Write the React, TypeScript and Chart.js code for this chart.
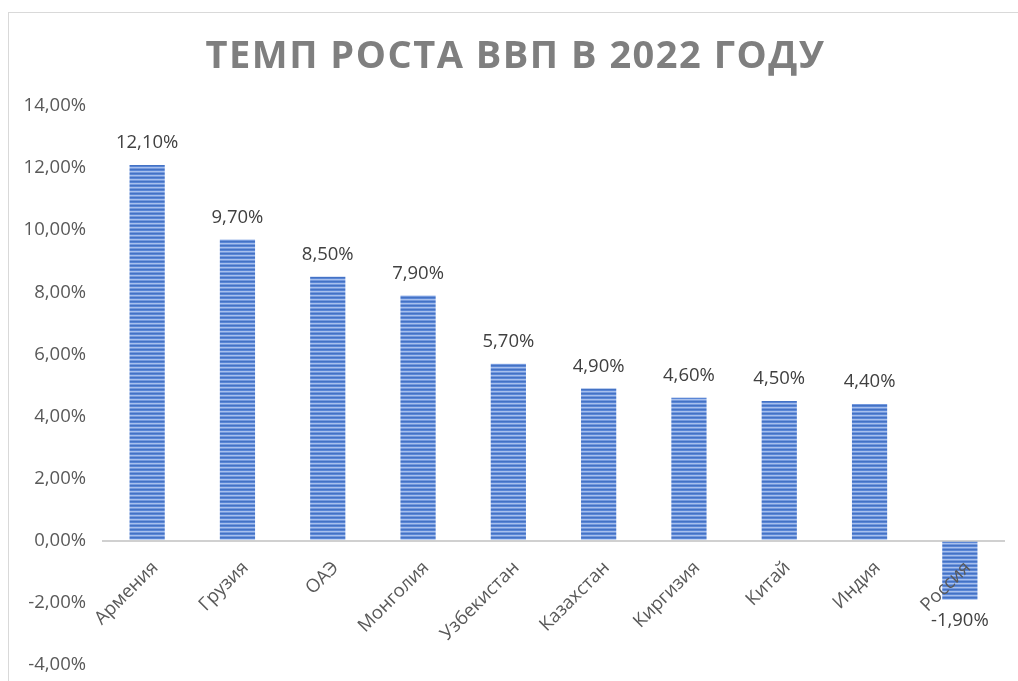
import React, { useEffect, useRef } from "react";
import { Chart, registerables } from "chart.js";

Chart.register(...registerables);

const TITLE = "ТЕМП РОСТА ВВП В 2022 ГОДУ";
const categories = ["Армения", "Грузия", "ОАЭ", "Монголия", "Узбекистан", "Казахстан", "Киргизия", "Китай", "Индия", "Россия"];
const growth = [12.1, 9.7, 8.5, 7.9, 5.7, 4.9, 4.6, 4.5, 4.4, -1.9];
const yMin = -4;
const yMax = 14;
const yStep = 2;

const fmt = (v: number) => v.toFixed(2).replace(".", ",") + "%";
const FONT = "'Open Sans', 'DejaVu Sans', sans-serif";

function makePattern(ctx: CanvasRenderingContext2D) {
  const c = document.createElement("canvas");
  c.width = 4;
  c.height = 4;
  const p = c.getContext("2d")!;
  const rows = ["#4472c4", "#5a86d6", "#a8c0ec", "#7499de"];
  rows.forEach((col, i) => {
    p.fillStyle = col;
    p.fillRect(0, i, 4, 1);
  });
  return ctx.createPattern(c, "repeat")!;
}

const overlayPlugin = {
  id: "overlay",
  afterDatasetsDraw(chart: any) {
    const { ctx, scales } = chart;
    const meta = chart.getDatasetMeta(0);
    const ds = chart.data.datasets[0].data as number[];
    ctx.save();
    // value labels
    ctx.font = `18.5px ${FONT}`;
    ctx.fillStyle = "#404040";
    ctx.textAlign = "center";
    ctx.textBaseline = "middle";
    meta.data.forEach((el: any, i: number) => {
      const v = ds[i];
      const y = v >= 0 ? el.y - 22 : el.y + 21;
      ctx.fillText(fmt(v), el.x, y);
    });
    // category labels at zero line
    const y0 = scales.y.getPixelForValue(0);
    ctx.fillStyle = "#595959";
    ctx.textAlign = "right";
    ctx.textBaseline = "middle";
    chart.data.labels.forEach((lab: string, i: number) => {
      const x = scales.x.getPixelForValue(i);
      ctx.save();
      ctx.translate(x + 8, y0 + 24);
      ctx.rotate(-Math.PI / 4);
      ctx.fillText(lab, 0, 0);
      ctx.restore();
    });
    // title
    ctx.font = `bold 38px ${FONT}`;
    ctx.fillStyle = "#7f7f7f";
    ctx.textAlign = "center";
    ctx.textBaseline = "middle";
    try {
      (ctx as any).letterSpacing = "1.5px";
    } catch (e) {}
    ctx.fillText(TITLE, chart.width / 2 + 2, 44);
    ctx.restore();
  },
};

export default function App() {
  const ref = useRef<HTMLCanvasElement>(null);
  useEffect(() => {
    const canvas = ref.current!;
    const ctx = canvas.getContext("2d")!;
    const pattern = makePattern(ctx);
    const chart = new Chart(canvas, {
      type: "bar",
      data: {
        labels: categories,
        datasets: [
          {
            data: growth,
            backgroundColor: pattern,
            borderWidth: 0,
            categoryPercentage: 1,
            barPercentage: 0.39,
          },
        ],
      },
      options: {
        animation: false,
        responsive: false,
        layout: { padding: { left: 0, top: 93, right: 13, bottom: 7 } },
        plugins: {
          legend: { display: false },
          title: { display: false },
          tooltip: { enabled: false },
        },
        scales: {
          x: {
            display: false,
          },
          y: {
            min: yMin,
            max: yMax,
            afterFit: (s: any) => {
              s.width = 93;
            },
            border: { display: false },
            grid: {
              drawTicks: false,
              color: (c: any) => (c.tick && c.tick.value === 0 ? "#d0d0d0" : "rgba(0,0,0,0)"),
              lineWidth: (c: any) => (c.tick && c.tick.value === 0 ? 2 : 0),
            },
            ticks: {
              stepSize: yStep,
              padding: 16,
              color: "#595959",
              font: { family: FONT, size: 18.5 },
              callback: (v: any) => fmt(Number(v)),
            },
          },
        },
      },
      plugins: [overlayPlugin],
    });
    return () => chart.destroy();
  }, []);
  return (
    <div
      style={{
        position: "absolute",
        left: 8,
        top: 12,
        width: 1040,
        height: 720,
        border: "1px solid #d9d9d9",
        background: "#fff",
      }}
    >
      <canvas ref={ref} width={1009} height={679} style={{ display: "block" }} />
    </div>
  );
}
